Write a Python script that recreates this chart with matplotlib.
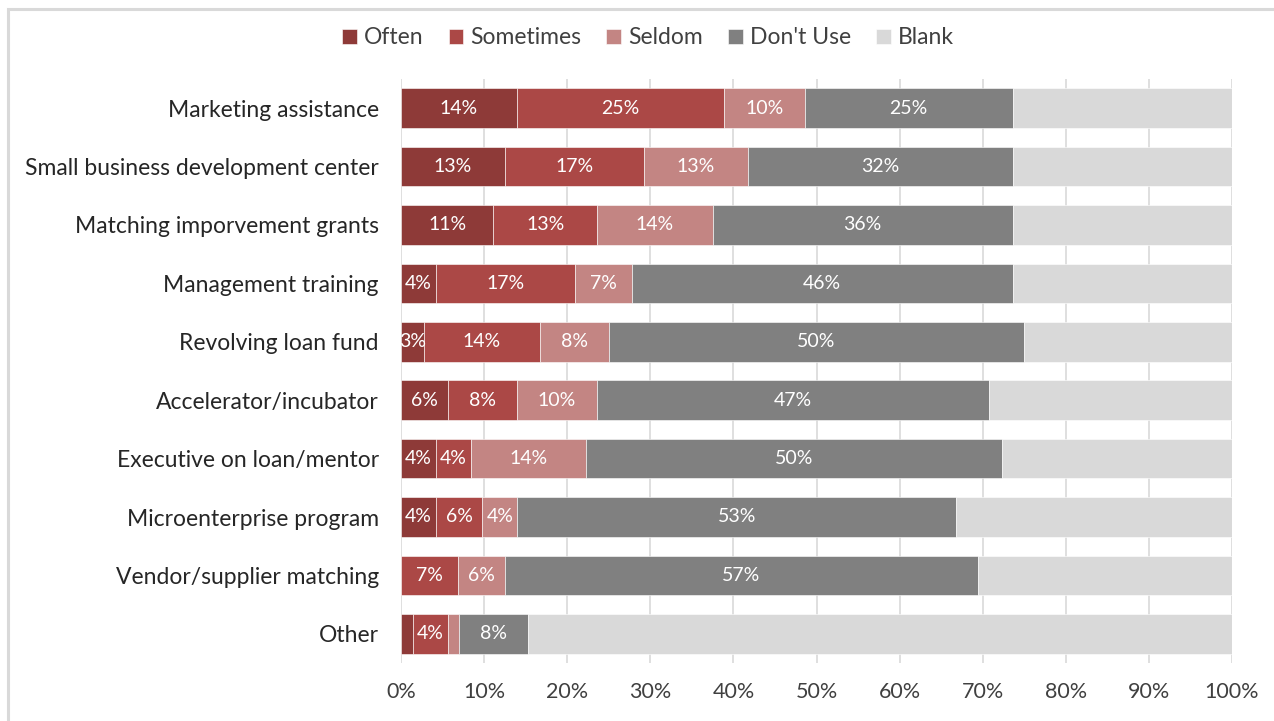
import math
import matplotlib
matplotlib.use("Agg")
import matplotlib.pyplot as plt
from matplotlib.patches import Rectangle

categories = [
    "Marketing assistance",
    "Small business development center",
    "Matching imporvement grants",
    "Management training",
    "Revolving loan fund",
    "Accelerator/incubator",
    "Executive on loan/mentor",
    "Microenterprise program",
    "Vendor/supplier matching",
    "Other",
]
often = [13.9, 12.5, 11.1, 4.2, 2.8, 5.6, 4.2, 4.2, 0.0, 1.4]
sometimes = [25.0, 16.7, 12.5, 16.7, 13.9, 8.3, 4.2, 5.6, 6.9, 4.2]
seldom = [9.7, 12.5, 13.9, 6.9, 8.3, 9.7, 13.9, 4.2, 5.6, 1.4]
dont_use = [25.0, 31.9, 36.1, 45.8, 50.0, 47.2, 50.0, 52.8, 56.9, 8.3]
blank = [100 - a - b - c - d for a, b, c, d in zip(often, sometimes, seldom, dont_use)]

series = [
    ("Often", often, "#8e3a38", True),
    ("Sometimes", sometimes, "#ab4846", True),
    ("Seldom", seldom, "#c38583", True),
    ("Don't Use", dont_use, "#808080", True),
    ("Blank", blank, "#d9d9d9", False),
]

plt.rcParams["font.family"] = ["Lato", "DejaVu Sans"]

fig = plt.figure(figsize=(12.74, 7.21), dpi=100)
W, H = 1274, 721
ax = fig.add_axes([401 / W, 1 - 663 / H, (1232 - 401) / W, (663 - 79) / H])

# outer chart frame
fig.patches.append(Rectangle((8 / W, -0.1), 1.2, 1 - 9 / H + 0.1, transform=fig.transFigure,
                             fill=False, edgecolor="#d9d9d9", linewidth=2.2))

y = list(range(len(categories)))
left = [0.0] * len(categories)
for name, vals, color, labelled in series:
    ax.barh(y, vals, left=left, height=0.68, color=color, label=name,
            edgecolor="white", linewidth=0.4, zorder=3)
    if labelled:
        for yi, l, v in zip(y, left, vals):
            if v >= 2:
                ax.text(l + v / 2, yi, f"{math.floor(v + 0.5)}%", ha="center", va="center",
                        color="white", fontsize=14, zorder=4)
    left = [a + b for a, b in zip(left, vals)]

ax.set_xlim(0, 100)
ax.set_ylim(len(categories) - 0.5, -0.5)
ax.set_xticks(range(0, 101, 10))
ax.set_xticklabels([f"{t}%" for t in range(0, 101, 10)], fontsize=15.5, color="#404040")
ax.set_yticks(y)
ax.set_yticklabels(categories, fontsize=16.5, color="#262626")
ax.tick_params(axis="both", length=0)
ax.tick_params(axis="x", pad=14)
ax.tick_params(axis="y", pad=16)
ax.grid(axis="x", color="#d9d9d9", linewidth=1.2, zorder=0)
for s in ax.spines.values():
    s.set_visible(False)

handles, labels = ax.get_legend_handles_labels()
fig.legend(handles, labels, loc="center", bbox_to_anchor=(648 / W, 1 - 38 / H), ncol=5,
           frameon=False, fontsize=16.5, handlelength=0.65, handleheight=0.65,
           handletextpad=0.3, columnspacing=1.1, labelcolor="#404040")

fig.savefig("out.png", dpi=100)
